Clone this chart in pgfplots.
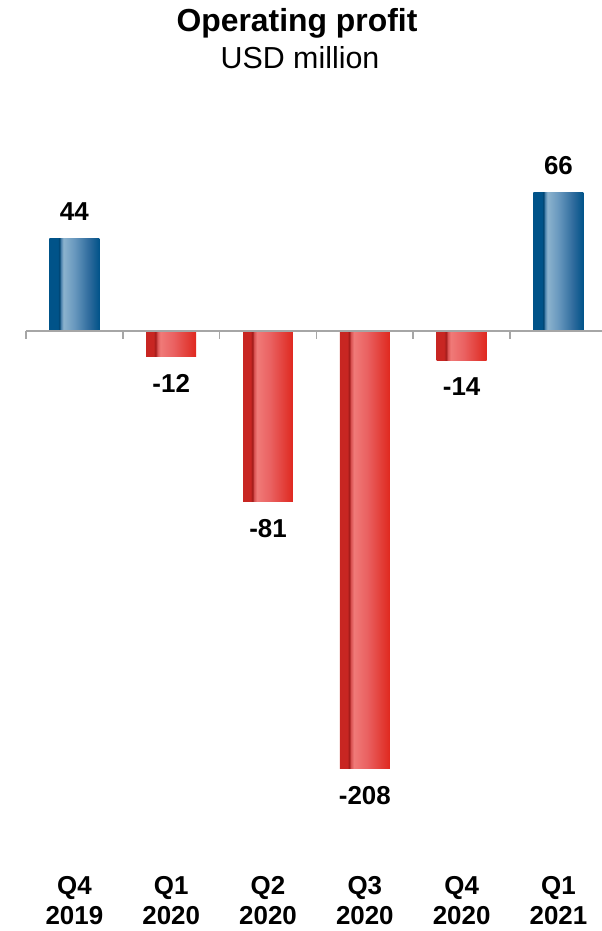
\documentclass[border=0pt]{standalone}
\usepackage{fontspec}
\setmainfont{Liberation Sans}
\usepackage{pgfplots}
\pgfplotsset{compat=1.18}

\definecolor{bdark}{HTML}{005389}
\definecolor{bline}{HTML}{00436F}
\definecolor{bmid1}{HTML}{4A82AC}
\definecolor{blight}{HTML}{8CB3CE}
\definecolor{bmid}{HTML}{6898BE}
\definecolor{bmid2}{HTML}{2D6A9C}
\definecolor{rdark}{HTML}{C82622}
\definecolor{rline}{HTML}{9E1A18}
\definecolor{rmid1}{HTML}{D85050}
\definecolor{rlight}{HTML}{F07A78}
\definecolor{rmid}{HTML}{EA6262}
\definecolor{rmid2}{HTML}{E23C36}
\definecolor{rend}{HTML}{E0281F}
\definecolor{axgray}{HTML}{A6A6A6}

\pgfdeclarehorizontalshading{bluebar}{100bp}{color(0bp)=(bdark); color(25bp)=(bdark); color(33.5bp)=(bdark); color(35bp)=(bline); color(36.5bp)=(bmid1); color(39bp)=(blight); color(50bp)=(bmid); color(65bp)=(bmid2); color(75bp)=(bdark); color(100bp)=(bdark)}
\pgfdeclarehorizontalshading{redbar}{100bp}{color(0bp)=(rdark); color(25bp)=(rdark); color(32.5bp)=(rdark); color(34.5bp)=(rline); color(36bp)=(rmid1); color(39bp)=(rlight); color(52bp)=(rmid); color(67bp)=(rmid2); color(75bp)=(rend); color(100bp)=(rend)}

\begin{document}
\begin{tikzpicture}
\path[use as bounding box] (0,0) rectangle (602bp,931bp);
\node[font=\bfseries\fontsize{32}{36}\selectfont, anchor=base] at (297bp,899bp) {Operating profit};
\node[font=\fontsize{30.5}{36}\selectfont, anchor=base] at (300bp,862bp) {USD million};
\begin{axis}[
  at={(26bp,52.7bp)}, anchor=south west,
  scale only axis, width=576bp, height=757.8bp,
  xmin=-0.5, xmax=5.45, ymin=-260, ymax=100,
  axis line style={draw=none},
  ytick=\empty,
  xtick={0,1,2,3,4,5},
  xticklabels={{Q4\\2019},{Q1\\2020},{Q2\\2020},{Q3\\2020},{Q4\\2020},{Q1\\2021}},
  xtick pos=bottom, major tick length=0pt,
  xticklabel style={align=center, font=\bfseries\fontsize{26}{30}\selectfont, anchor=north, yshift=2bp, inner sep=0pt},
  clip=false,
  bar width=0.516,
  bluebar/.style={ybar, bar shift=0pt, draw=none, shade, shading=bluebar},
  redbar/.style={ybar, bar shift=0pt, draw=none, shade, shading=redbar},
]
\addplot[bluebar] coordinates {(0,44)};
\addplot[redbar] coordinates {(1,-12)};
\addplot[redbar] coordinates {(2,-81)};
\addplot[redbar] coordinates {(3,-208)};
\addplot[redbar] coordinates {(4,-14)};
\addplot[bluebar] coordinates {(5,66)};
\addplot[draw=none, nodes near coords, point meta=explicit symbolic,
  every node near coord/.append style={anchor=south, inner xsep=0pt, inner ysep=17.5bp, font=\bfseries\fontsize{26}{30}\selectfont, text=black}]
  coordinates {(0,44) [44] (5,66) [66]};
\addplot[draw=none, nodes near coords, point meta=explicit symbolic,
  every node near coord/.append style={anchor=north, inner xsep=0pt, inner ysep=17.5bp, font=\bfseries\fontsize{26}{30}\selectfont, text=black}]
  coordinates {(1,-12) [-12] (2,-81) [-81] (3,-208) [-208] (4,-14) [-14]};
\draw[axgray, line width=1.6bp] (axis cs:-0.5,0) -- (axis cs:5.45,0);
\pgfplotsinvokeforeach{-0.5,0.5,1.5,2.5,3.5,4.5}{
  \draw[axgray, line width=1.6bp] (axis cs:#1,0) -- ([yshift=-8bp]axis cs:#1,0);
}
\end{axis}
\end{tikzpicture}
\end{document}
